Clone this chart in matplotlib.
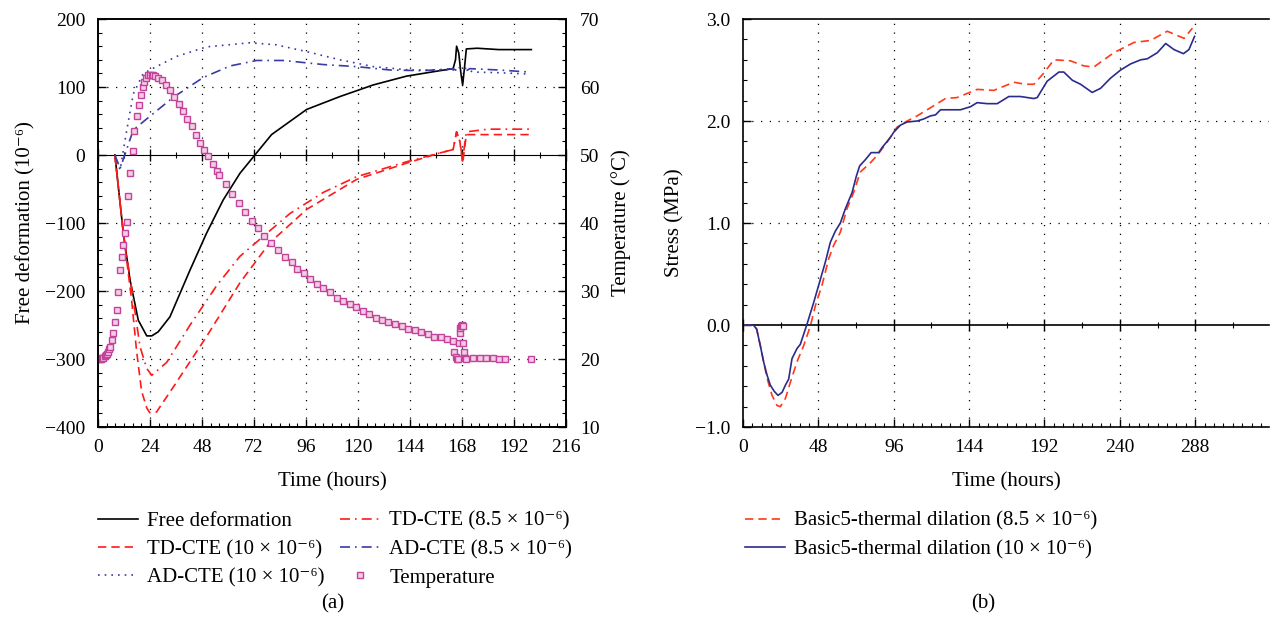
import matplotlib
matplotlib.use("Agg")
import matplotlib.pyplot as plt
from matplotlib.ticker import MultipleLocator, NullFormatter

plt.rcParams['font.family'] = ['Liberation Serif', 'DejaVu Serif']
plt.rcParams['font.size'] = 14

# ---------------- Panel (a) data ----------------
free_h = [7.8, 11.7, 14.8, 18.6, 22.5, 24.8, 27.8, 33.2, 42.5, 50.1, 57.8, 65.5, 72.4, 80.1,
          96.3, 111.7, 127, 142.4, 157.8, 163.9, 165.0, 165.5, 166.5, 167.5, 168.3, 169.2, 170, 175, 185, 200]
free_v = [0, -115, -184, -243, -266, -266, -260, -238, -169, -115, -66, -27, 0, 30,
          67, 86, 103, 116, 124, 127, 140, 160, 150, 120, 103, 130, 156, 157, 155, 155]

td10_h = [7.8, 11.7, 15.5, 17.8, 20.1, 22.5, 23.9, 27.0, 34.8, 50.1, 65.5, 79.3, 96.3, 119.3,
          142.4, 157.8, 163.9, 165.5, 167.0, 168.3, 169.2, 170, 180, 200]
td10_v = [0, -115, -213, -288, -347, -372, -379, -378, -341, -267, -188, -129, -80, -36,
          -12, 3, 8, 34, 20, -12, 10, 30, 30, 30]

td85_h = [7.8, 11.7, 15.5, 19.4, 22.5, 24.8, 31.7, 42.5, 54.8, 65.5, 78.0, 88.6, 104, 119.3,
          142.4, 157.8, 163.9, 165.5, 167.0, 168.3, 169.2, 170, 180, 200]
td85_v = [0, -115, -196, -282, -314, -324, -305, -250, -192, -149, -115, -86, -55, -32,
          -10, 3, 8, 34, 20, -7, 15, 34, 38, 38]

ad10_h = [7.8, 10.2, 13.3, 16.3, 20.9, 27.0, 36.3, 50.1, 70.0, 82.3, 96.3, 111.7, 127, 143.9,
          163.9, 168, 173, 185, 199]
ad10_v = [0, -22, 37, 90, 120, 130, 145, 159, 165, 162, 152, 140, 130, 125,
          125, 130, 122, 121, 119]

ad85_h = [7.8, 10.2, 16.3, 24.0, 34.8, 48.6, 61.0, 73.2, 85.5, 104, 119.3, 134.7, 150, 163.9,
          168, 171.6, 185, 199]
ad85_v = [0, -20, 37, 57, 85, 114, 131, 139, 139, 133, 130, 125, 124, 127,
          120, 127, 125, 122]

temp_h = [0, 0.5, 1, 1.5, 2, 2.5, 3, 3.5, 4, 4.5, 5, 5.5, 6.3, 7.1, 7.8, 8.6, 9.4, 10.2, 11.0, 11.7,
          12.5, 13.3, 14.0, 14.8, 16.0, 16.8, 17.8, 18.9, 19.8, 20.6, 21.4, 22.1, 23.2, 24.0, 24.8,
          25.5, 26.3, 27.8, 29.4, 31.4, 33.2, 35.2, 37.2, 39.4, 41.2, 43.2, 45.2, 47.1, 48.9, 50.9,
          52.9, 54.9, 56.0, 58.9, 62.0, 64.9, 67.8, 70.9, 73.8, 76.8, 79.8, 83.2, 86.3, 89.4, 92.0,
          94.9, 98.0, 101.1, 104.0, 107.0, 110.2, 113.0, 116.1, 119.0, 122.3, 125.2, 128.2, 131.1,
          134.0, 137.3, 140.1, 143.2, 146.1, 149.0, 152.1, 155.2, 158.1, 161.2, 164.0, 164.5, 165.0,
          165.5, 166.0, 166.5, 167.0, 167.3, 167.7, 168.0, 168.3, 168.6, 169.0, 169.5, 170.0,
          173.0, 176.3, 179.3, 182.4, 185.2, 187.8, 200.0]
temp_T = [20.1, 20.0, 20.0, 20.0, 20.1, 20.2, 20.4, 20.6, 20.8, 21.1, 21.4, 21.8, 22.8, 23.8, 25.5, 27.2, 29.9, 33.1, 35.0, 36.8,
          38.5, 40.2, 43.9, 47.3, 50.6, 53.5, 55.7, 57.4, 58.8, 60.0, 60.8, 61.3, 61.7, 61.8, 61.8,
          61.7, 61.6, 61.3, 61.0, 60.3, 59.6, 58.6, 57.5, 56.4, 55.3, 54.2, 53.0, 51.8, 50.8, 49.8,
          48.7, 47.6, 47.1, 45.7, 44.3, 42.9, 41.6, 40.3, 39.2, 38.1, 37.0, 36.0, 35.0, 34.2, 33.3,
          32.6, 31.8, 31.1, 30.4, 29.8, 29.0, 28.5, 28.1, 27.6, 27.1, 26.6, 26.1, 25.7,
          25.4, 25.1, 24.8, 24.4, 24.2, 23.9, 23.7, 23.3, 23.2, 22.9, 22.6, 21.0, 20.3,
          20.0, 20.0, 22.3, 23.8, 24.6, 24.9, 25.0, 24.9, 22.4, 21.0, 20.2, 20.0,
          20.1, 20.1, 20.1, 20.1, 20.0, 20.0, 20.0]

# ---------------- Panel (b) data ----------------
b10_h = [0, 6.6, 8.7, 11.0, 13.1, 15.3, 17.4, 19.9, 22.3, 24.9, 27.0, 29.1, 31.2, 34.4, 36.5, 40.8,
         45.0, 48.2, 52.5, 55.6, 58.8, 62.0, 65.2, 69.5, 72.2, 74.3, 77.9, 81.6, 86.4, 88.6, 93.9,
         96.0, 100.3, 104.5, 110.9, 115.1, 119.4, 122.6, 125.8, 138.5, 144.9, 149.1, 155.5, 161.9,
         169.3, 176.8, 185.2, 187.4, 193.7, 201.2, 204.3, 209.7, 215.0, 222.4, 227.7, 234.1, 240.5,
         246.9, 253.3, 257.5, 263.9, 269.2, 274.5, 280.5, 284.0, 287.6]
b10_s = [0, 0, -0.04, -0.20, -0.36, -0.49, -0.59, -0.65, -0.69, -0.66, -0.59, -0.53, -0.33, -0.23, -0.19, 0.01,
         0.22, 0.39, 0.62, 0.81, 0.92, 1.00, 1.14, 1.30, 1.46, 1.56, 1.62, 1.69, 1.69, 1.74, 1.84,
         1.89, 1.96, 1.99, 2.00, 2.02, 2.05, 2.06, 2.11, 2.11, 2.14, 2.18, 2.17, 2.17,
         2.24, 2.24, 2.22, 2.23, 2.39, 2.48, 2.48, 2.40, 2.36, 2.28, 2.32, 2.42, 2.50,
         2.56, 2.60, 2.61, 2.67, 2.76, 2.70, 2.66, 2.70, 2.83]

b85_h = [0, 6.6, 8.7, 11.0, 15.3, 18.5, 21.7, 23.8, 27.0, 30.2, 34.4, 38.7, 42.9, 46.1, 50.3, 54.6,
         57.7, 62.0, 66.2, 70.5, 74.7, 81.1, 85.3, 91.7, 98.1, 104.5, 110.9, 121.5, 128.9, 136.4,
         149.1, 159.7, 172.5, 179.9, 185.2, 191.6, 198.0, 208.6, 217.1, 223.5, 236.2, 249.0, 259.6,
         270.2, 280.9, 286.2]
b85_s = [0, 0, -0.04, -0.20, -0.52, -0.69, -0.79, -0.80, -0.72, -0.56, -0.36, -0.20, -0.01, 0.19, 0.39, 0.65,
         0.78, 0.91, 1.14, 1.30, 1.50, 1.59, 1.66, 1.79, 1.94, 2.00, 2.05, 2.15, 2.22, 2.23,
         2.31, 2.30, 2.38, 2.36, 2.36, 2.47, 2.60, 2.59, 2.54, 2.53, 2.67, 2.77, 2.79,
         2.88, 2.81, 2.91]

RED = '#ff1a1a'
BLUE = '#3a3aa8'
MAG = '#c2449a'
NAVY = '#2b2b8c'
ORANGE = '#ff3a1a'
grid_ls = (0, (1, 6))
SUP = ' × 10\u207b\u2076)'
TICK_FS = 14
LAB_FS = 15
LEG_FS = 15
LEG_KW = dict(frameon=False, fontsize=LEG_FS, handlelength=1.9, labelspacing=0.42,
              handletextpad=0.45, borderaxespad=0, borderpad=0.3)

fig = plt.figure(figsize=(12.71, 6.27), dpi=100)

# ---------------- Panel (a) ----------------
ax1 = fig.add_axes([98/1271, 1 - 427/627, 468/1271, 408/627])
l1, = ax1.plot(free_h, free_v, color='black', lw=1.2, label='Free deformation')
l2, = ax1.plot(td10_h, td10_v, color=RED, lw=1.2, ls=(0, (5, 3)), label='TD-CTE (10' + SUP)
l3, = ax1.plot(ad10_h, ad10_v, color=BLUE, lw=1.2, ls=(0, (1, 3)), label='AD-CTE (10' + SUP)
l4, = ax1.plot(td85_h, td85_v, color=RED, lw=1.2, ls=(0, (6, 3, 1, 3)), label='TD-CTE (8.5' + SUP)
l5, = ax1.plot(ad85_h, ad85_v, color=BLUE, lw=1.2, ls=(0, (6, 3, 1, 3)), label='AD-CTE (8.5' + SUP)
ax1.set_xlim(0, 216)
ax1.set_ylim(-400, 200)
ax1.set_xticks(range(0, 217, 24))
ax1.xaxis.set_minor_locator(MultipleLocator(4))
ax1.set_yticks(range(-400, 201, 100))
ax1.set_yticklabels(['\u2212400', '\u2212300', '\u2212200', '\u2212100', '0', '100', '200'])
ax1.yaxis.set_minor_locator(MultipleLocator(20))
ax1.tick_params(which='both', direction='in', top=False, right=False)
ax1.tick_params(which='major', length=6, width=1, labelsize=TICK_FS)
ax1.tick_params(axis='x', which='major', pad=9)
ax1.tick_params(axis='y', which='major', pad=9)
ax1.tick_params(which='minor', length=3, width=0.8)
for y in [-300, -200, -100, 100]:
    ax1.axhline(y, color='black', lw=0.9, ls=grid_ls, zorder=0)
for x in range(24, 216, 24):
    ax1.axvline(x, color='black', lw=0.9, ls=grid_ls, zorder=0)
for s in ax1.spines.values():
    s.set_linewidth(1.2)
ax1.set_xlabel('Time (hours)', fontsize=LAB_FS, labelpad=11)
ax1.set_ylabel('Free deformation (10\u207b\u2076)', fontsize=LAB_FS, labelpad=7)

sec1 = ax1.secondary_xaxis(2/3)
sec1.set_xticks(range(0, 217, 24))
sec1.xaxis.set_minor_locator(MultipleLocator(12))
sec1.xaxis.set_major_formatter(NullFormatter())
sec1.tick_params(which='major', direction='inout', length=8, width=1)
sec1.tick_params(which='minor', direction='inout', length=4, width=0.8)
sec1.spines['bottom'].set_linewidth(1.2)

ax1t = ax1.twinx()
l6, = ax1t.plot(temp_h, temp_T, ls='none', marker='s', ms=3.8, mfc='#f4cce6', mec=MAG, mew=1.0,
                label='Temperature')
ax1t.set_ylim(10, 70)
ax1t.set_yticks(range(10, 71, 10))
ax1t.yaxis.set_minor_locator(MultipleLocator(2))
ax1t.tick_params(which='both', direction='in')
ax1t.tick_params(which='major', length=6, width=1, labelsize=TICK_FS, pad=10)
ax1t.tick_params(which='minor', length=3, width=0.8)
ax1t.set_ylabel('Temperature (°C)', fontsize=LAB_FS, labelpad=8)
for s in ax1t.spines.values():
    s.set_linewidth(1.2)

fig.legend([l1, l2, l3, l4, l5, l6],
           [h.get_label() for h in [l1, l2, l3, l4, l5, l6]],
           ncol=2, loc='upper left', bbox_to_anchor=(92/1271, 1 - 505/627),
           columnspacing=0.75, **LEG_KW)
fig.text(333/1271, 1 - 604/627, '(a)', ha='center', va='center', fontsize=LAB_FS)

# ---------------- Panel (b) ----------------
ax2 = fig.add_axes([743/1271, 1 - 427/627, 526/1271, 408/627])
m1, = ax2.plot(b85_h, b85_s, color=ORANGE, lw=1.2, ls=(0, (5, 3)),
               label='Basic5-thermal dilation (8.5' + SUP)
m2, = ax2.plot(b10_h, b10_s, color=NAVY, lw=1.2, label='Basic5-thermal dilation (10' + SUP)
ax2.set_xlim(0, 335)
ax2.set_ylim(-1.0, 3.0)
ax2.set_xticks(range(0, 289, 48))
ax2.xaxis.set_minor_locator(MultipleLocator(6))
ax2.set_yticks([-1.0, 0.0, 1.0, 2.0, 3.0])
ax2.set_yticklabels(['\u22121.0', '0.0', '1.0', '2.0', '3.0'])
ax2.yaxis.set_minor_locator(MultipleLocator(0.2))
ax2.tick_params(which='both', direction='in')
ax2.tick_params(which='major', length=6, width=1, labelsize=TICK_FS)
ax2.tick_params(axis='x', which='major', pad=9)
ax2.tick_params(axis='y', which='major', pad=9)
ax2.tick_params(which='minor', length=3, width=0.8)
for y in [1.0, 2.0]:
    ax2.axhline(y, color='black', lw=0.9, ls=grid_ls, zorder=0)
for x in range(48, 289, 48):
    ax2.axvline(x, color='black', lw=0.9, ls=grid_ls, zorder=0)
for s in ax2.spines.values():
    s.set_linewidth(1.2)
ax2.spines['right'].set_visible(False)
ax2.set_xlabel('Time (hours)', fontsize=LAB_FS, labelpad=11)
ax2.set_ylabel('Stress (MPa)', fontsize=LAB_FS, labelpad=8)

sec2 = ax2.secondary_xaxis(0.25)
sec2.set_xticks(range(0, 289, 48))
sec2.xaxis.set_minor_locator(MultipleLocator(24))
sec2.xaxis.set_major_formatter(NullFormatter())
sec2.tick_params(which='major', direction='inout', length=8, width=1)
sec2.tick_params(which='minor', direction='inout', length=4, width=0.8)
sec2.spines['bottom'].set_linewidth(1.2)

fig.legend([m1, m2], [m1.get_label(), m2.get_label()], loc='upper left',
           bbox_to_anchor=(739/1271, 1 - 505/627), **LEG_KW)
fig.text(983/1271, 1 - 604/627, '(b)', ha='center', va='center', fontsize=LAB_FS)

fig.savefig('out.png', dpi=100)
